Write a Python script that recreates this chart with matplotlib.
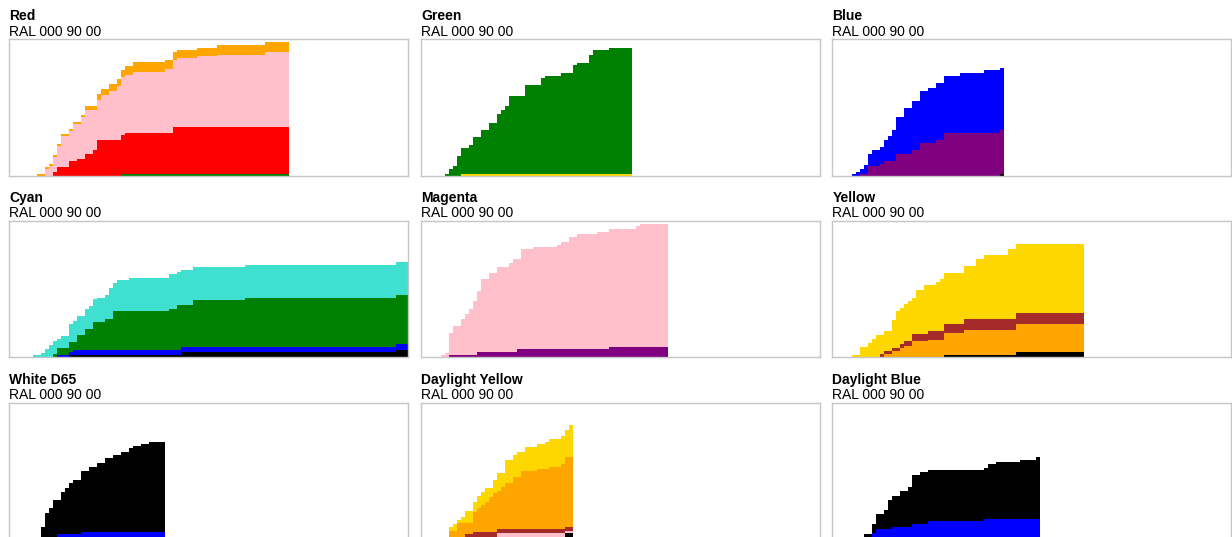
import numpy as np
import matplotlib.pyplot as plt

plt.rcParams['font.family'] = ['Liberation Sans', 'DejaVu Sans']

subtitle = 'RAL 000 90 00'

# Red
red_days = [7, 9, 10, 11, 12, 13, 15, 16, 17, 18, 19, 21, 22, 23, 25, 27, 28, 29, 31, 39, 41, 42, 47, 52, 64]
red_end = 70
red_green = [0] * 16 + [2] * 9
red_red = [0, 0, 0, 4, 9, 9, 15, 15, 17, 17, 22, 26, 36, 36, 36, 36, 39, 41, 41, 41, 47, 47, 47, 47, 47]
red_pink = [0, 7, 10, 15, 21, 31, 30, 37, 35, 42, 44, 40, 39, 44, 48, 53, 57, 57, 60, 63, 66, 68, 70, 71, 74]
red_orange = [2, 2, 2, 2, 2, 2, 2, 2, 2, 2, 3, 3, 6, 6, 7, 7, 7, 9, 10, 9, 8, 8, 8, 10, 10]

# Green
green_days = [6, 7, 8, 9, 10, 12, 13, 15, 17, 19, 20, 21, 22, 26, 30, 31, 35, 38, 39, 42, 43, 47]
green_end = 53
green_yellow = [0] * 4 + [2] * 18
green_green = [2, 7, 10, 20, 26, 29, 37, 44, 51, 60, 64, 67, 77, 88, 95, 97, 100, 108, 110, 118, 123, 125]

# Blue
blue_days = [5, 6, 7, 8, 9, 10, 12, 13, 14, 15, 16, 18, 20, 22, 24, 26, 28, 32, 38, 42]
blue_end = 43
blue_black = [0] * 19 + [2]
blue_purple = [0, 0, 2, 2, 10, 10, 12, 15, 15, 15, 22, 22, 26, 33, 33, 36, 43, 43, 43, 44]
blue_blue = [2, 4, 5, 9, 12, 16, 17, 21, 25, 31, 37, 46, 48, 51, 54, 56, 56, 59, 62, 61]

# Cyan
cyan_days = [6, 8, 9, 10, 11, 12, 13, 15, 16, 17, 19, 20, 21, 22, 24, 25, 26, 27, 30, 40, 42, 43, 46, 59, 97]
cyan_end = 100
cyan_black = [0] * 7 + [2] * 14 + [5, 5, 5, 7]
cyan_blue = [0] * 5 + [2, 2, 3] + [5] * 16 + [6]
cyan_green = [0, 0, 0, 0, 3, 7, 7, 10, 8, 15, 21, 21, 28, 28, 31, 31, 39, 39, 39, 41, 45, 42, 47, 49, 49]
cyan_cyan = [2, 4, 8, 12, 13, 9, 12, 18, 21, 19, 20, 23, 23, 24, 24, 31, 28, 31, 33, 35, 33, 35, 33, 33, 33]

# Magenta
magenta_days = [5, 6, 7, 8, 10, 11, 12, 13, 14, 15, 17, 19, 22, 23, 24, 25, 28, 34, 35, 37, 39, 44, 47, 54, 55]
magenta_end = 62
magenta_purple = [0, 0, 2, 2, 2, 2, 2, 2, 5, 5, 5, 5, 5, 5, 8, 8, 8, 8, 8, 8, 8, 8, 10, 10, 10]
magenta_pink = [2, 4, 22, 29, 36, 41, 46, 54, 61, 73, 79, 85, 89, 93, 90, 100, 102, 104, 107, 112, 115, 117, 118, 121, 123]

# Yellow
yellow_days = [5, 7, 9, 10, 11, 12, 13, 15, 16, 17, 18, 19, 20, 21, 23, 24, 26, 27, 28, 33, 36, 38, 44, 46]
yellow_end = 63
yellow_black = [0] * 18 + [2, 2, 2, 2, 2, 5]
yellow_orange = [0, 0, 0, 0, 0, 0, 3, 6, 6, 9, 11, 11, 16, 16, 16, 17, 17, 17, 22, 25, 25, 25, 25, 28]
yellow_brown = [0, 0, 0, 0, 0, 3, 3, 3, 3, 4, 5, 5, 7, 7, 7, 9, 9, 9, 9, 11, 11, 11, 11, 11]
yellow_gold = [2, 10, 14, 18, 22, 19, 20, 28, 37, 36, 37, 40, 36, 44, 49, 46, 49, 52, 51, 53, 60, 64, 70, 69]

# White D65
white_days = [6, 8, 9, 10, 11, 12, 13, 14, 15, 16, 18, 20, 22, 24, 26, 28, 30, 31, 33, 35]
white_end = 39
white_blue = [0, 0, 0, 0, 0, 5, 5, 5, 5, 5, 7, 7, 7, 7, 7, 7, 7, 7, 7, 7]
white_black = [2, 12, 26, 31, 39, 34, 42, 46, 51, 54, 61, 65, 69, 74, 77, 80, 84, 86, 88, 90]

# Daylight Yellow
dyellow_days = [6, 7, 8, 9, 10, 11, 13, 14, 15, 16, 17, 18, 19, 20, 21, 23, 24, 25, 26, 29, 31, 32, 35, 36, 37]
dyellow_end = 38
dyellow_black = [0] * 23 + [6, 6]
dyellow_pink = [0] * 6 + [2] * 6 + [6] * 11 + [2, 2]
dyellow_brown = [0] * 5 + [5] * 7 + [4] * 13
dyellow_orange = [0, 8, 8, 16, 16, 11, 20, 24, 27, 30, 35, 39, 38, 42, 46, 52, 52, 58, 58, 60, 60, 62, 65, 70, 70]
dyellow_gold = [2, 4, 7, 3, 6, 12, 10, 12, 13, 14, 9, 13, 18, 14, 23, 22, 25, 19, 24, 25, 27, 28, 28, 27, 32]

# Daylight Blue
dblue_days = [6, 8, 10, 11, 13, 14, 15, 17, 19, 20, 22, 24, 38, 39, 41, 47, 51]
dblue_end = 52
dblue_blue = [0, 2, 6, 10, 10, 10, 12, 12, 12, 15, 15, 18, 20, 20, 20, 20, 20]
dblue_black = [2, 3, 9, 15, 19, 29, 31, 36, 40, 49, 52, 51, 51, 55, 57, 59, 62]

panels = [
    ('Red', red_days, red_end,
     [red_green, red_red, red_pink, red_orange], ['green', 'red', 'pink', 'orange']),
    ('Green', green_days, green_end,
     [green_yellow, green_green], ['gold', 'green']),
    ('Blue', blue_days, blue_end,
     [blue_black, blue_purple, blue_blue], ['black', 'purple', 'blue']),
    ('Cyan', cyan_days, cyan_end,
     [cyan_black, cyan_blue, cyan_green, cyan_cyan], ['black', 'blue', 'green', 'turquoise']),
    ('Magenta', magenta_days, magenta_end,
     [magenta_purple, magenta_pink], ['purple', 'pink']),
    ('Yellow', yellow_days, yellow_end,
     [yellow_black, yellow_orange, yellow_brown, yellow_gold], ['black', 'orange', 'brown', 'gold']),
    ('White D65', white_days, white_end,
     [white_blue, white_black], ['blue', 'black']),
    ('Daylight Yellow', dyellow_days, dyellow_end,
     [dyellow_black, dyellow_pink, dyellow_brown, dyellow_orange, dyellow_gold],
     ['black', 'pink', 'brown', 'orange', 'gold']),
    ('Daylight Blue', dblue_days, dblue_end,
     [dblue_blue, dblue_black], ['blue', 'black']),
]

W, H = 1232, 537
fig = plt.figure(figsize=(W / 100, H / 100), dpi=100)

col_left = [9.3, 421, 832.3]
row_top = [39.3, 221, 402.7]
ax_w, ax_h = 399, 136.4

for i, (name, days, end, layers, colors) in enumerate(panels):
    r, c = divmod(i, 3)
    l, t = col_left[c], row_top[r]
    ax = fig.add_axes([l / W, 1 - (t + ax_h) / H, ax_w / W, ax_h / H])
    x = np.array(days + [end])
    base = np.zeros(len(x))
    for vals, col in zip(layers, colors):
        v = np.array(vals + [vals[-1]], dtype=float)
        ax.fill_between(x, base, base + v, step='post', color=col, linewidth=0)
        base = base + v
    ax.set_xlim(0, 100)
    ax.set_ylim(0, 136)
    ax.set_xticks([])
    ax.set_yticks([])
    for s in ax.spines.values():
        s.set_color('#c6c6c6')
        s.set_linewidth(1)
    fig.text(l / W, 1 - (t - 19) / H, name, fontsize=10, fontweight='bold', va='baseline', ha='left')
    fig.text(l / W, 1 - (t - 3.6) / H, subtitle, fontsize=10, va='baseline', ha='left')

fig.savefig('out.png', dpi=100)
